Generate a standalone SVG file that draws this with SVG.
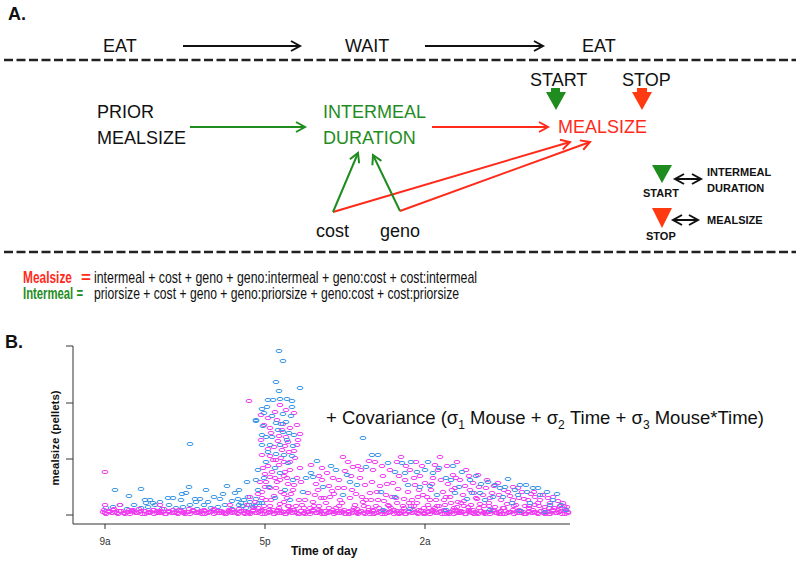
<svg xmlns="http://www.w3.org/2000/svg" width="800" height="562" viewBox="0 0 800 562">
<style>
text{font-family:"Liberation Sans",Arial,sans-serif;}
.t{font-size:18px;fill:#111;}
.g{fill:#1e8c1e;}
.r{fill:#ff2a1a;}
.b{font-weight:bold;}
.sm{font-size:11px;font-weight:bold;fill:#111;}
.eq{font-size:17px;fill:#111;}
.dash{stroke:#222;stroke-width:2.6;stroke-dasharray:9 3.5;fill:none;}
.lk{stroke:#111;stroke-width:2;fill:none;}
.lg{stroke:#1e8c1e;stroke-width:2;fill:none;}
.lr{stroke:#ff2a1a;stroke-width:2;fill:none;}
.ax{stroke:#333;stroke-width:1;fill:none;}
.pb{fill:none;stroke:none;marker-start:url(#mb);marker-mid:url(#mb);marker-end:url(#mb);}
.pm{fill:none;stroke:none;marker-start:url(#mm);marker-mid:url(#mm);marker-end:url(#mm);}
</style>
<defs>
<marker id="ak" markerUnits="userSpaceOnUse" markerWidth="14" markerHeight="14" refX="10" refY="6" orient="auto-start-reverse" overflow="visible"><path d="M1,1 L10,6 L1,11" fill="none" stroke="#111" stroke-width="2"/></marker>
<marker id="ag" markerUnits="userSpaceOnUse" markerWidth="14" markerHeight="14" refX="10" refY="6" orient="auto" overflow="visible"><path d="M1,1 L10,6 L1,11" fill="none" stroke="#1e8c1e" stroke-width="2"/></marker>
<marker id="ar" markerUnits="userSpaceOnUse" markerWidth="14" markerHeight="14" refX="10" refY="6" orient="auto" overflow="visible"><path d="M1,1 L10,6 L1,11" fill="none" stroke="#ff2a1a" stroke-width="2"/></marker>
<marker id="mb" markerUnits="userSpaceOnUse" markerWidth="8" markerHeight="5" refX="4" refY="2.5" overflow="visible"><ellipse cx="4" cy="2.5" rx="3" ry="1.6" fill="none" stroke="#3a96e6" stroke-width="1"/></marker>
<marker id="mm" markerUnits="userSpaceOnUse" markerWidth="8" markerHeight="5" refX="4" refY="2.5" overflow="visible"><ellipse cx="4" cy="2.5" rx="3" ry="1.6" fill="none" stroke="#f03cf0" stroke-width="1"/></marker>
</defs>
<rect width="800" height="562" fill="#fff"/>

<text x="8" y="20" class="b" font-size="18" fill="#111">A.</text>
<line class="dash" x1="4" y1="60" x2="796" y2="60"/>
<line class="dash" x1="4" y1="252" x2="796" y2="252"/>

<g id="eat1"><text class="t" x="103" y="52">EAT</text></g>
<g id="wait"><text class="t" x="345" y="52">WAIT</text></g>
<g id="eat2"><text class="t" x="582" y="52">EAT</text></g>
<g id="start"><text class="t" x="530" y="86">START</text>
<polygon points="551,88 560,88 560,92 566,92 556,110 546,92 551,92" fill="#1e8c1e"/></g>
<g id="stop"><text class="t" x="622" y="86">STOP</text>
<polygon points="637,88 647,88 647,92 652,92 642,110 632,92 637,92" fill="#ff3a10"/></g>
<g id="prior"><text class="t" x="97" y="118">PRIOR</text><text class="t" x="97" y="144">MEALSIZE</text></g>
<g id="intermeal"><text class="t g" x="323" y="118">INTERMEAL</text><text class="t g" x="323" y="144">DURATION</text></g>
<g id="mealsize"><text class="t r" x="558" y="133">MEALSIZE</text></g>
<g id="cost"><text class="t" x="316" y="237">cost</text></g>
<g id="geno"><text class="t" x="380" y="237">geno</text></g>

<g id="connectors">
<line class="lk" x1="183" y1="46" x2="300" y2="46" marker-end="url(#ak)"/>
<line class="lk" x1="425" y1="46" x2="543" y2="46" marker-end="url(#ak)"/>
<line class="lg" x1="190" y1="127" x2="305" y2="127" marker-end="url(#ag)"/>
<line class="lr" x1="432" y1="127" x2="548" y2="127" marker-end="url(#ar)"/>
<line class="lr" x1="333" y1="212" x2="570" y2="142" marker-end="url(#ar)"/>
<line class="lr" x1="400" y1="211" x2="590" y2="142" marker-end="url(#ar)"/>
<line class="lg" x1="333" y1="212" x2="358" y2="153" marker-end="url(#ag)"/>
<line class="lg" x1="400" y1="211" x2="373" y2="155" marker-end="url(#ag)"/>
</g>

<g id="legend">
<polygon points="652,165 672,165 662,183" fill="#1e8c1e"/>
<text class="sm" x="643" y="197">START</text>
<line class="lk" x1="675" y1="179" x2="701" y2="179" marker-start="url(#ak)" marker-end="url(#ak)"/>
<text class="sm" x="707" y="176">INTERMEAL</text>
<text class="sm" x="707" y="192">DURATION</text>
<polygon points="652,208 672,208 662,228" fill="#ff3a10"/>
<text class="sm" x="646" y="240">STOP</text>
<line class="lk" x1="673" y1="220" x2="698" y2="220" marker-start="url(#ak)" marker-end="url(#ak)"/>
<text class="sm" x="707" y="224">MEALSIZE</text>
</g>

<g id="equations">
<text class="eq" y="283"><tspan x="23" class="b r" textLength="49" lengthAdjust="spacingAndGlyphs">Mealsize</tspan><tspan x="81" class="b r">=</tspan><tspan x="94" textLength="383" lengthAdjust="spacingAndGlyphs">intermeal + cost + geno + geno:intermeal + geno:cost + cost:intermeal</tspan></text>
<text class="eq" y="299"><tspan x="23" class="b g" textLength="60" lengthAdjust="spacingAndGlyphs">Intermeal =</tspan><tspan x="94" textLength="365" lengthAdjust="spacingAndGlyphs">priorsize + cost + geno + geno:priorsize + geno:cost + cost:priorsize</tspan></text>
</g>

<text x="5" y="348" class="b" font-size="18" fill="#111">B.</text>

<g id="plot">
<path class="ax" d="M73,346 V524 H570 M66,346 H73 M66,403 H73 M66,459 H73 M66,515 H73 M105,524 V529 M265,524 V529 M425,524 V529"/>
<text x="105" y="545" font-size="10" fill="#333" text-anchor="middle">9a</text>
<text x="265" y="545" font-size="10" fill="#333" text-anchor="middle">5p</text>
<text x="425" y="545" font-size="10" fill="#333" text-anchor="middle">2a</text>
<text x="291" y="555" font-size="12" class="b" fill="#111">Time of day</text>
<text transform="translate(59,438) rotate(-90)" font-size="11.5" class="b" fill="#111" text-anchor="middle">mealsize (pellets)</text>

<polyline class="pb" points="106,508 113,507 120,505 127,509 134,505 141,508 148,507 155,505 162,509 169,505 176,508 183,507 190,505 197,509 204,505 211,508 218,507 225,505 232,509 239,505 246,508 253,507 232,501 238,499 244,500 250,502 256,499 241,503 248,497 115,490 129,496 141,489 190,444 189,487 206,490 227,486 247,482 256,421 223,494 235,493 239,490 182,494 186,493 168,498 173,498 195,499 146,503 153,503 196,502 208,502 145,500 150,500 160,502 181,500 200,499 214,497 220,499 243,506 249,505 255,506 259,503"/>
<polyline class="pm" points="105,513 109,512 113,510 117,513 121,511 125,514 129,512 133,510 137,513 141,511 145,514 149,512 153,510 157,513 161,511 165,514 169,512 173,510 177,513 181,511 185,514 189,512 193,510 197,513 201,511 205,514 209,512 213,510 217,513 221,511 225,514 229,512 233,510 237,513 241,511 245,514 249,512 253,510 257,513 261,511 265,514 269,512 273,510 277,513 281,511 285,514 289,512 293,510 297,513 301,511 305,514 309,512 313,510 317,513 321,511 325,514 329,512 333,510 337,513 341,511 345,514 349,512 353,510 357,513 361,511 365,514 369,512 373,510 377,513 381,511 385,514 389,512 393,510 397,513 401,511 405,514 409,512 413,510 417,513 421,511 425,514 429,512 433,510 437,513 441,511 445,514 449,512 453,510 457,513 461,511 465,514 469,512 473,510 477,513 481,511 485,514 489,512 493,510 497,513 501,511 505,514 509,512 513,510 517,513 521,511 525,514 529,512 533,510 537,513 541,511 545,514 549,512 553,510 557,513 561,511 565,514 568,512"/>
<polyline class="pm" points="104,510 109,512 114,509 119,511 124,513 129,510 134,512 139,509 144,511 149,513 154,510 159,512 164,509 169,511 174,513 179,510 184,512 189,509 194,511 199,513 204,510 209,512 214,509 219,511 224,513 229,510 234,512 239,509 244,511 249,513 254,508 259,512 264,506 269,510 274,514 279,508 284,512 289,506 294,510 299,514 304,508 309,512 314,506 319,510 324,514 329,508 334,512 339,506 344,510 349,514 354,508 359,512 364,506 369,510 374,514 379,508 384,512 389,506 394,510 399,514 404,508 409,512 414,506 419,510 424,514 429,508 434,512 439,506 444,510 449,514 454,508 459,512 464,506 469,510 474,514 479,508 484,512 489,506 494,510 499,514 504,508 509,512 514,506 519,510 524,514 529,508 534,512 539,506 544,510 549,514 554,508 559,512 564,506"/>
<polyline class="pm" points="103,512 106,514 109,511 112,513 115,512 118,514 121,511 124,513 127,512 130,514 133,511 136,513 139,512 142,514 145,511 148,513 151,512 154,514 157,511 160,513 163,512 166,514 169,511 172,513 175,512 178,514 181,511 184,513 187,512 190,514 193,511 196,513 199,512 202,514 205,511 208,513 211,512 214,514 217,511 220,513 223,512 226,514 229,511 232,513 235,512 238,514 241,511 244,513 247,512 250,514 253,511 256,513 259,512 262,514 265,511 268,513 271,512 274,514 277,511 280,513 283,512 286,514 289,511 292,513 295,512 298,514 301,511 304,513 307,512 310,514 313,511 316,513 319,512 322,514 325,511 328,513 331,512 334,514 337,511 340,513 343,512 346,514 349,511 352,513 355,512 358,514 361,511 364,513 367,512 370,514 373,511 376,513 379,512 382,514 385,511 388,513 391,512 394,514 397,511 400,513 403,512 406,514 409,511 412,513 415,512 418,514 421,511 424,513 427,512 430,514 433,511 436,513 439,512 442,514 445,511 448,513 451,512 454,514 457,511 460,513 463,512 466,514 469,511 472,513 475,512 478,514 481,511 484,513 487,512 490,514 493,511 496,513 499,512 502,514 505,511 508,513 511,512 514,514 517,511 520,513 523,512 526,514 529,511 532,513 535,512 538,514 541,511 544,513 547,512 550,514 553,511 556,513 559,512 562,514 565,511 568,513"/>
<polyline class="pm" points="105,472 105,505 249,401 260,482 120,505 160,505 230,505 247,505 255,502 250,497 258,494 280,405 282,430 270,428 286,437 278,441 288,442 274,447 282,450 270,456 289,452 276,460 284,462 268,466 279,465 290,470 272,472 284,476 266,482 277,482 288,484 270,488 281,492 262,492 291,494 274,496 266,500 284,502 296,506 258,508 270,506 290,510 297,425 300,434 297,445 295,458 300,468 285,472 277,420 283,424 265,474 275,478 262,498 287,498 293,490 305,500 310,508 315,495 318,490 322,468 322,480 326,503 330,497 333,478 336,508 338,488 340,500 345,471 348,462 352,490 355,505 358,466 360,478 362,497 365,485 368,507 370,493 373,470 375,462 378,500 380,486 383,476 386,495 388,505 390,470 393,483 396,498 398,489 401,457 403,506 405,480 408,492 410,470 412,500 415,485 418,497 420,476 342,503 350,498 357,509 363,502 371,500 376,506 384,501 391,508 397,503 404,499 411,506 417,503 423,495 425,483 428,505 431,490 433,478 436,500 438,470 440,457 443,492 445,505 448,484 450,497 453,475 455,488 458,502 460,480 463,495 466,470 468,507 470,490 473,483 476,498 478,475 480,504 424,508 430,500 437,506 444,500 451,503 457,507 464,501 471,505 477,499 483,495 486,488 489,503 492,493 495,507 498,483 501,500 504,490 507,504 510,496 513,487 516,505 519,498 522,492 525,506 528,500 531,494 535,505 540,500 545,507 550,503 555,508 560,506 565,509 535,497 548,498 558,501 302,505 307,512 313,502 319,506 324,498 329,486 334,494"/>
<polyline class="pm" points="261,415 268,418 275,412 286,410 294,413 264,425 271,433 279,436 290,428 298,440 261,440 268,449 285,446 294,451 262,455 273,460 281,458 290,462 297,478 263,468 270,477 280,480 287,478 294,485 265,487 276,488 284,494 271,500 280,504 288,506 262,510 278,510 299,500 301,482 308,493 316,484 321,498 327,473 332,491 339,480 344,488 351,476 356,494 361,470 366,500 372,482 377,492 382,466 387,484 392,497 399,476 406,466 409,503 414,478 419,490 422,466 427,497 432,484 435,508 441,480 447,466 452,490 456,478 461,503 465,486 469,476 474,493 479,487 484,506 490,498 494,486 499,495 503,508 508,492 513,500 518,488 524,499 529,506 534,492 538,503 543,495 549,508 553,497 558,510 563,503 567,507 311,465 319,476 343,457 353,467 369,461 397,462 416,462 435,465 457,462 446,497 487,480"/>
<polyline class="pb" points="279,351 283,361 276,382 279,391 300,388 268,400 273,400 280,399 287,399 292,401 262,409 267,407 256,420 264,413 272,416 283,414 291,416 276,423 281,424 286,422 278,430 283,432 289,433 262,435 266,437 272,437 294,435 262,445 270,445 280,445 293,446 268,452 276,454 284,455 292,456 266,462 288,463 275,468 280,473 264,478 293,480 269,487 285,490 275,498 290,500 262,503 256,480 258,490 313,477 323,487 357,485 363,438 372,455 378,455 388,463 402,463 411,462 405,473 417,472 425,470 433,473 439,468 446,478 453,466 462,472 470,480 476,476 481,484 488,482 495,485 500,488 508,479 515,490 520,485 527,492 533,488 540,495 547,492 553,500 557,494 343,495 350,482 336,470 306,478 311,473 383,510 410,509 446,510 490,510 520,511 545,512 395,497 430,486 455,493 467,499 485,500 503,497 512,503 530,503 303,492 317,461 331,466 347,475 366,467 381,492 395,472 408,485 420,487 428,462 437,495 451,480 459,487 472,493 480,493 493,497 505,487 518,495 526,485 538,488 550,505 561,505 566,510 292,407 263,426 287,440 258,470"/>
</g>

<g id="covariance"><text x="326" y="424" font-size="18.5" fill="#111">+ Covariance (σ<tspan font-size="12" dy="5">1</tspan><tspan dy="-5"> Mouse + σ</tspan><tspan font-size="12" dy="5">2</tspan><tspan dy="-5"> Time + σ</tspan><tspan font-size="12" dy="5">3</tspan><tspan dy="-5"> Mouse*Time)</tspan></text></g>
</svg>
